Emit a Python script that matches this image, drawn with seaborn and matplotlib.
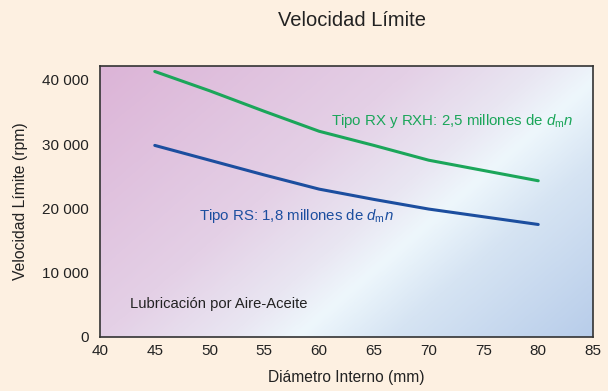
import numpy as np
import pandas as pd
import matplotlib
matplotlib.use("Agg")
import matplotlib.pyplot as plt
from matplotlib.colors import LinearSegmentedColormap
import seaborn as sns

# ---- data ----
diametro = [45, 50, 55, 60, 65, 70, 75, 80]
rx_rxh = [41300, 38300, 35100, 32000, 29800, 27500, 25900, 24300]
rs = [29800, 27500, 25200, 23000, 21400, 19900, 18700, 17500]
x_ticks = [40, 45, 50, 55, 60, 65, 70, 75, 80, 85]
y_ticks = [0, 10000, 20000, 30000, 40000]
y_ticklabels = ["0", "10 000", "20 000", "30 000", "40 000"]

sns.set_style("white")
plt.rcParams['font.family'] = ['Liberation Sans', 'DejaVu Sans']
plt.rcParams['mathtext.fontset'] = 'custom'
plt.rcParams['mathtext.rm'] = 'Liberation Sans'
plt.rcParams['mathtext.it'] = 'Liberation Sans:italic'

bg = "#FDF0E1"
fig = plt.figure(figsize=(6.08, 3.91), dpi=100, facecolor=bg)
ax = fig.add_axes([100/608, 1-337/391, 493/608, 271/391])

# gradient background
nx, ny = 400, 250
u = np.linspace(0, 1, nx)
v = np.linspace(1, 0, ny)
U, V = np.meshgrid(u, v)
px = 100 + 493*U
py = 337 - 271*V
t = 155*px + 180*py
t = (t - t.min())/(t.max() - t.min())
cmap = LinearSegmentedColormap.from_list("bg", [
    (0.0, "#DCB4D7"), (0.39, "#E4D0E6"), (0.55, "#E9E6F2"),
    (0.634, "#EEF7FC"), (0.75, "#D6E4F3"), (1.0, "#B8CDEA")])
ax.imshow(t, cmap=cmap, extent=[0, 1, 0, 1], transform=ax.transAxes,
          aspect='auto', zorder=0, vmin=0, vmax=1)

df = pd.DataFrame({
    "d": diametro * 2,
    "v": rx_rxh + rs,
    "tipo": ["RX"] * len(diametro) + ["RS"] * len(diametro),
})
sns.lineplot(data=df, x="d", y="v", hue="tipo",
             palette={"RX": "#1BA65A", "RS": "#1C4E9F"},
             linewidth=2.2, legend=False, ax=ax, zorder=3)

ax.set_xlim(40, 85)
ax.set_ylim(0, 42150)
ax.set_xticks(x_ticks)
ax.set_xticklabels([str(x) for x in x_ticks])
ax.set_yticks(y_ticks)
ax.set_yticklabels(y_ticklabels)
ax.tick_params(axis='x', direction='in', length=5, width=1, color="#333333",
               labelsize=11, labelcolor="#222222", pad=5)
ax.tick_params(axis='y', direction='out', length=5, width=1, color="#333333",
               labelsize=11, labelcolor="#222222", pad=3)
for s in ax.spines.values():
    s.set_color("#333333")
    s.set_linewidth(1.2)
    s.set_visible(True)

ax.set_xlabel("Diámetro Interno (mm)", fontsize=11.2, color="#222222", labelpad=9)
ax.set_ylabel("Velocidad Límite (rpm)", fontsize=11.3, color="#222222", labelpad=10)
fig.text(352/608, 1-21/391, "Velocidad Límite", ha='center', va='center',
         fontsize=14.5, color="#222222")

ax.text(61.1, 33600, r"Tipo RX y RXH: 2,5 millones de $d_{\mathrm{m}}n$",
        color="#1BA65A", fontsize=10.8, va='center', ha='left', zorder=4)
ax.text(49.0, 18800, r"Tipo RS: 1,8 millones de $d_{\mathrm{m}}n$",
        color="#1C4E9F", fontsize=10.8, va='center', ha='left', zorder=4)
ax.text(42.7, 5100, "Lubricación por Aire-Aceite",
        color="#222222", fontsize=10.6, va='center', ha='left', zorder=4)

fig.savefig("out.png", dpi=100, facecolor=bg)
